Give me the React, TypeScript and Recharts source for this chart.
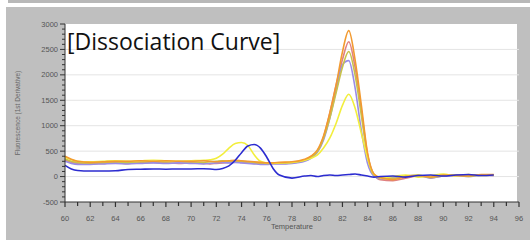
import React from 'react';
import { LineChart, Line, XAxis, YAxis, ReferenceLine, Label } from 'recharts';

const temps = [60, 60.5, 61, 62, 63, 64, 65, 66, 67, 68, 69, 70, 71, 71.5, 72, 72.5, 73, 73.5, 74, 74.5, 75, 75.5, 76, 76.5, 77, 78, 79, 79.5, 80, 80.5, 81, 81.5, 82, 82.5, 83, 83.5, 84, 84.5, 85, 86, 87, 88, 89, 90, 91, 92, 93, 94];

const blue = [220, 150, 120, 110, 110, 115, 140, 145, 150, 145, 150, 150, 155, 150, 140, 160, 210, 320, 470, 600, 630, 560, 380, 160, 30, -30, 10, 20, 0, 20, 30, 20, 30, 40, 50, 30, 10, -10, 0, 10, -10, 20, 30, 10, 30, 40, 20, 30];
const yellow = [380, 330, 300, 290, 300, 310, 300, 310, 320, 310, 300, 310, 320, 330, 360, 440, 560, 650, 670, 610, 430, 300, 270, 260, 270, 280, 320, 360, 420, 560, 760, 1050, 1400, 1620, 1350, 850, 350, 40, -20, 0, 30, -10, 20, 50, 10, 40, 20, 30];
const orange = [400, 340, 300, 280, 290, 300, 300, 310, 300, 310, 300, 300, 310, 300, 290, 300, 310, 320, 310, 300, 290, 280, 270, 270, 280, 290, 340, 400, 520, 800, 1250, 1800, 2450, 2870, 2300, 1400, 450, 50, -20, -60, 0, 20, -10, 30, 20, 10, 40, 40];
const olive = [350, 300, 280, 270, 280, 290, 280, 290, 300, 290, 300, 290, 280, 290, 300, 310, 300, 310, 300, 290, 280, 270, 260, 270, 270, 280, 320, 380, 490, 750, 1150, 1650, 2150, 2460, 2000, 1200, 380, 30, -30, -40, 10, 30, -20, 20, 30, 0, 30, 30];
const lavender = [300, 260, 240, 240, 250, 260, 250, 260, 270, 260, 270, 260, 250, 260, 270, 280, 270, 280, 270, 260, 250, 240, 240, 250, 250, 260, 300, 360, 470, 720, 1150, 1700, 2200, 2280, 1750, 900, 250, 10, -40, -20, 0, 20, -30, 10, 20, 0, 20, 20];
const pink = [330, 280, 260, 250, 260, 270, 260, 270, 280, 270, 260, 270, 260, 250, 260, 270, 280, 290, 280, 270, 260, 250, 250, 260, 260, 270, 320, 390, 500, 780, 1250, 1800, 2300, 2650, 2150, 1300, 420, 40, -60, -80, -30, 10, -20, 10, 30, 20, 30, 20];

const xTicks = [60, 61, 62, 63, 64, 65, 66, 67, 68, 69, 70, 71, 72, 73, 74, 75, 76, 77, 78, 79, 80, 81, 82, 83, 84, 85, 86, 87, 88, 89, 90, 91, 92, 93, 94, 95, 96];
const yTicks = [-500, -400, -300, -200, -100, 0, 100, 200, 300, 400, 500, 600, 700, 800, 900, 1000, 1100, 1200, 1300, 1400, 1500, 1600, 1700, 1800, 1900, 2000, 2100, 2200, 2300, 2400, 2500, 2600, 2700, 2800, 2900, 3000];
const gridValues = [0, 500, 1000, 1500, 2000, 2500];

const data = temps.map((t, i) => ({
  t,
  blue: blue[i],
  yellow: yellow[i],
  orange: orange[i],
  olive: olive[i],
  lavender: lavender[i],
  pink: pink[i],
}));

const tickFont = '"Liberation Sans", Arial, sans-serif';

const YTick = (props: any) => {
  const { x, y, payload } = props;
  const v = payload.value;
  const major = v % 500 === 0;
  return (
    <g>
      <line x1={x - (major ? 5 : 3)} x2={x} y1={y} y2={y} stroke="#333" strokeWidth={1} />
      {major && (
        <text x={x - 7} y={y} dy={2.5} textAnchor="end" fontSize={7.5} fill="#555" fontFamily={tickFont}>
          {v}
        </text>
      )}
    </g>
  );
};

const XTick = (props: any) => {
  const { x, y, payload } = props;
  const v = payload.value;
  const major = v % 2 === 0;
  return (
    <g>
      <line x1={x} x2={x} y1={y} y2={y + (major ? 5 : 4)} stroke="#333" strokeWidth={1.2} />
      {major && (
        <text x={x} y={y + 19} textAnchor="middle" fontSize={7.5} fill="#555" fontFamily={tickFont}>
          {v}
        </text>
      )}
    </g>
  );
};

const series = [
  { key: 'pink', color: '#e08080' },
  { key: 'lavender', color: '#9a8ce6' },
  { key: 'olive', color: '#c8c24a' },
  { key: 'yellow', color: '#f2ee3c' },
  { key: 'orange', color: '#f29a30' },
  { key: 'blue', color: '#2c2cd0' },
];

export default function App() {
  return (
    <div style={{ position: 'absolute', left: 0, top: 0, width: 530, height: 240, background: '#ffffff', overflow: 'hidden' }}>
      <div style={{ position: 'absolute', left: 8, top: 0, width: 522, height: 3, background: '#b8b8b8' }} />
      <div style={{ position: 'absolute', left: 6, top: 7, width: 524, height: 233, background: '#bfbfbf' }} />
      <div style={{ position: 'absolute', left: 65, top: 24, width: 452, height: 178, background: '#ffffff' }} />
      <div style={{ position: 'absolute', left: 0, top: 0 }}>
        <LineChart width={530} height={240} data={data} margin={{ top: 24, right: 11, bottom: 8, left: 0 }}>
          {gridValues.map((g) => (
            <ReferenceLine key={g} y={g} stroke="#e4e4e4" strokeWidth={1} />
          ))}
          <XAxis
            dataKey="t"
            type="number"
            domain={[60, 96]}
            ticks={xTicks}
            interval={0}
            height={30}
            tickSize={0}
            tickMargin={0}
            tickLine={false}
            tick={<XTick />}
            axisLine={{ stroke: '#333', strokeWidth: 1 }}
          >
            <Label value="Temperature" position="insideBottom" offset={3} fontSize={7.5} fill="#555" fontFamily={tickFont} />
          </XAxis>
          <YAxis
            type="number"
            domain={[-500, 3000]}
            ticks={yTicks}
            interval={0}
            width={65}
            tickSize={0}
            tickMargin={0}
            tickLine={false}
            tick={<YTick />}
            axisLine={{ stroke: '#333', strokeWidth: 1 }}
          >
            <Label value="Fluorescence (1st Derivative)" angle={-90} position="insideLeft" offset={18} fontSize={6.5} fill="#666" fontFamily={tickFont} style={{ textAnchor: 'middle' }} />
          </YAxis>
          {series.map((s) => (
            <Line key={s.key} dataKey={s.key} stroke={s.color} strokeWidth={1.6} dot={false} isAnimationActive={false} type="monotone" />
          ))}
        </LineChart>
      </div>
      <div style={{ position: 'absolute', left: 67, top: 30, fontFamily: '"Open Sans", sans-serif', fontSize: 23, lineHeight: '23px', color: '#111', whiteSpace: 'nowrap' }}>
        [Dissociation Curve]
      </div>
    </div>
  );
}
